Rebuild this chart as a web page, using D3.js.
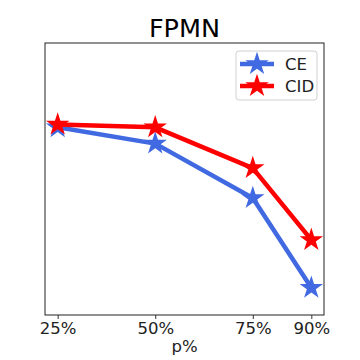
<!DOCTYPE html>
<html>
<head>
<meta charset="utf-8">
<script src="https://cdn.jsdelivr.net/npm/d3@7"></script>
<style>
  body { margin: 0; background: #fff; }
  svg { display: block; font-family: "DejaVu Sans", sans-serif; }
</style>
</head>
<body>
<svg id="chart" width="360" height="360"></svg>
<script>
// FPMN chart: CE vs CID across p%
const pValues = [25, 50, 75, 90];
const tickLabels = ["25%", "50%", "75%", "90%"];
const ceValues = [0.69, 0.63, 0.43, 0.10];
const cidValues = [0.70, 0.69, 0.54, 0.276];
const seriesNames = ["CE", "CID"];
const seriesColors = ["#4169e1", "#ff0000"];

const svg = d3.select("#chart");
const margin = { top: 43, right: 36, bottom: 45, left: 45 };
const width = 360, height = 360;
const innerW = width - margin.left - margin.right;
const innerH = height - margin.top - margin.bottom;

const g = svg.append("g").attr("transform", `translate(${margin.left},${margin.top})`);

const pad = (90 - 25) * 0.05;
const x = d3.scaleLinear().domain([25 - pad, 90 + pad]).range([0, innerW]);
const y = d3.scaleLinear().domain([0, 1]).range([innerH, 0]);

// title
svg.append("text")
  .attr("x", margin.left + innerW / 2)
  .attr("y", 37)
  .attr("text-anchor", "middle")
  .attr("font-size", 25.5)
  .attr("fill", "#000")
  .text("FPMN");

// x axis
const xAxis = g.append("g")
  .attr("transform", `translate(0,${innerH})`)
  .call(d3.axisBottom(x).tickValues(pValues).tickFormat((d, i) => tickLabels[i]).tickSize(4).tickPadding(3));
xAxis.select(".domain").remove();
xAxis.selectAll("line").attr("stroke", "#000").attr("stroke-width", 0.8);
xAxis.selectAll("text").attr("font-size", 16.5).attr("fill", "#222").attr("font-family", "DejaVu Sans, sans-serif");

svg.append("text")
  .attr("x", margin.left + innerW / 2)
  .attr("y", 352)
  .attr("text-anchor", "middle")
  .attr("font-size", 16.5)
  .attr("fill", "#222")
  .text("p%");

const star = d3.symbol().type(d3.symbolStar).size(170);

const series = [
  { name: seriesNames[0], color: seriesColors[0], values: ceValues },
  { name: seriesNames[1], color: seriesColors[1], values: cidValues }
];

const line = d3.line().x((d, i) => x(pValues[i])).y(d => y(d));

series.forEach(s => {
  g.append("path")
    .attr("d", line(s.values))
    .attr("fill", "none")
    .attr("stroke", s.color)
    .attr("stroke-width", 4.5)
    .attr("stroke-linejoin", "round");
  g.selectAll(null)
    .data(s.values)
    .join("path")
    .attr("d", star)
    .attr("transform", (d, i) => `translate(${x(pValues[i])},${y(d)})`)
    .attr("fill", s.color);
});

// frame
g.append("rect")
  .attr("width", innerW)
  .attr("height", innerH)
  .attr("fill", "none")
  .attr("stroke", "#222")
  .attr("stroke-width", 1);

// legend
const legend = g.append("g").attr("transform", `translate(${innerW - 88},8)`);
legend.append("rect")
  .attr("width", 81)
  .attr("height", 49)
  .attr("rx", 3)
  .attr("fill", "#fff")
  .attr("fill-opacity", 0.8)
  .attr("stroke", "#d0d0d0");
series.forEach((s, i) => {
  const row = legend.append("g").attr("transform", `translate(4,${13 + i * 22})`);
  row.append("line").attr("x1", 0).attr("x2", 34).attr("stroke", s.color).attr("stroke-width", 4.5);
  row.append("path").attr("d", star).attr("transform", "translate(17,0)").attr("fill", s.color);
  row.append("text")
    .attr("x", 45)
    .attr("y", 6)
    .attr("font-size", 16.5)
    .attr("fill", "#222")
    .text(s.name);
});
</script>
</body>
</html>
